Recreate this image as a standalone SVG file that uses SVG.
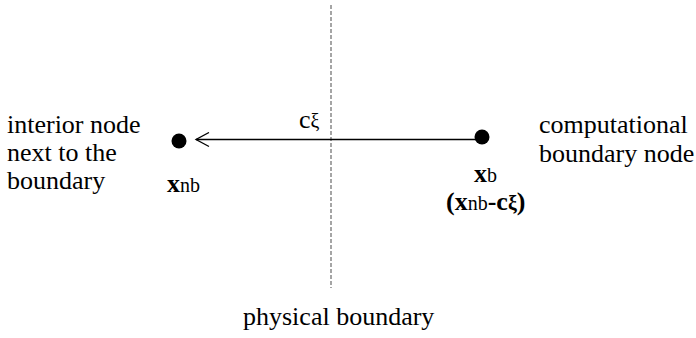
<svg xmlns="http://www.w3.org/2000/svg" width="696" height="338" viewBox="0 0 696 338">
<style>
.lbl{font-family:'Liberation Serif','Times New Roman',Times,serif;font-size:26px;fill:#000;}
.b{font-weight:bold;}
.sub{font-size:20px;font-weight:normal;}
</style>
<defs>
<marker id="open" markerWidth="16" markerHeight="16" refX="14" refY="8" orient="auto" markerUnits="userSpaceOnUse">
<path d="M1,1 L14,8 L1,15" fill="none" stroke="#000" stroke-width="1.3"/>
</marker>
</defs>
<rect width="696" height="338" fill="#fff"/>
<g id="connectors">
<line x1="331" y1="5" x2="331" y2="288" stroke="#888" stroke-width="1.5" stroke-dasharray="4,2"/>
<line x1="478" y1="139.5" x2="196" y2="139.5" stroke="#000" stroke-width="1.3" marker-end="url(#open)"/>
<text class="lbl" font-family="Liberation Serif, serif" x="299" y="128">c<tspan font-size="20">ξ</tspan></text>
</g>
<g id="node-interior">
<circle cx="179" cy="141" r="7.5" fill="#000"/>
<text class="lbl" font-family="Liberation Serif, serif" x="167" y="192"><tspan class="b">x</tspan><tspan class="sub">nb</tspan></text>
</g>
<g id="node-boundary">
<circle cx="482" cy="137" r="7.5" fill="#000"/>
<text class="lbl" font-family="Liberation Serif, serif" x="474" y="182"><tspan class="b">x</tspan><tspan class="sub">b</tspan></text>
<text class="lbl b" font-family="Liberation Serif, serif" x="446" y="210">(x<tspan class="sub">nb</tspan>-c<tspan font-size="20">ξ</tspan>)</text>
</g>
<g id="label-interior">
<text class="lbl" font-family="Liberation Serif, serif" x="7" y="133">interior node</text>
<text class="lbl" font-family="Liberation Serif, serif" x="7" y="161">next to the</text>
<text class="lbl" font-family="Liberation Serif, serif" x="7" y="189">boundary</text>
</g>
<g id="label-computational">
<text class="lbl" font-family="Liberation Serif, serif" x="539" y="133">computational</text>
<text class="lbl" font-family="Liberation Serif, serif" x="539" y="162">boundary node</text>
</g>
<g id="label-physical">
<text class="lbl" font-family="Liberation Serif, serif" x="243" y="325">physical boundary</text>
</g>
</svg>
